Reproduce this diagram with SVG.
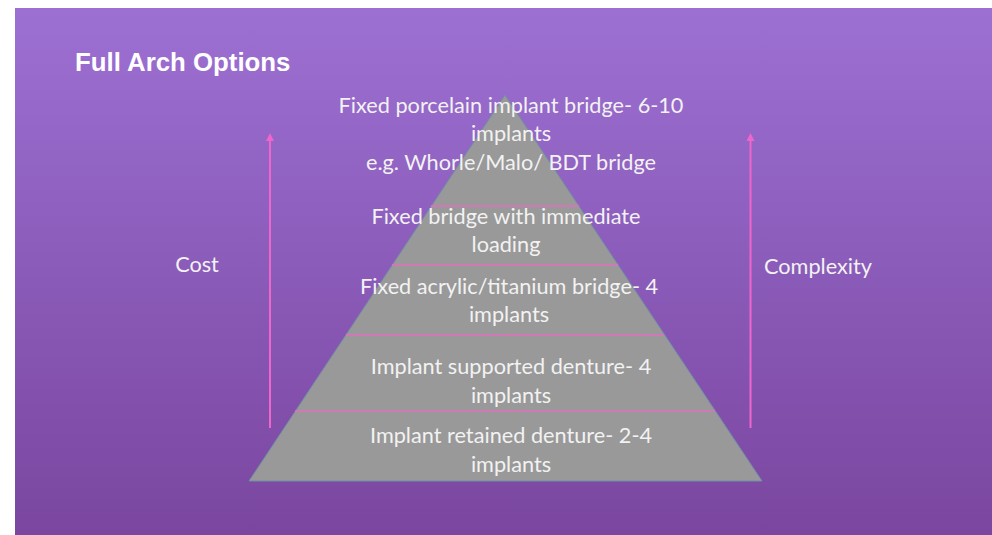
<svg xmlns="http://www.w3.org/2000/svg" width="992" height="535" viewBox="0 0 992 535">
  <style>
    .t { font-family: Lato, "Open Sans", sans-serif; font-size: 21.7px; fill: #f2f2f2; text-anchor: middle; }
    .title { font-family: "Liberation Sans", Arial, sans-serif; font-weight: bold; font-size: 25.8px; fill: #ffffff; }
    .div { stroke: #e271c0; stroke-width: 1.5; }
    .arr { stroke: #ee66cc; stroke-width: 2; fill: none; marker-end: url(#ah); }
  </style>
  <defs>
    <linearGradient id="bg" x1="0" y1="0" x2="0" y2="1">
      <stop offset="0" stop-color="#9c70d3"/>
      <stop offset="1" stop-color="#7a469f"/>
    </linearGradient>
    <marker id="ah" markerWidth="8" markerHeight="8" refX="4" refY="4" orient="auto" markerUnits="userSpaceOnUse">
      <path d="M0,0 L8,4 L0,8 Z" fill="#ee66cc"/>
    </marker>
  </defs>
  <rect x="0" y="0" width="992" height="535" fill="#ffffff"/>
  <rect x="15" y="8" width="977" height="527" fill="url(#bg)"/>
  <text class="title" x="75" y="71">Full Arch Options</text>

  <g id="pyramid">
    <polygon points="505,95 762,481 249,481" fill="#999999" stroke="#6f8ea6" stroke-width="1"/>
    <line class="div" x1="431" y1="206" x2="579" y2="206"/>
    <line class="div" x1="392" y1="265" x2="618" y2="265"/>
    <line class="div" x1="346" y1="335" x2="664" y2="335"/>
    <line class="div" x1="295" y1="411" x2="715" y2="411"/>
  </g>

  <g id="level5">
    <text class="t" x="511" y="113">Fixed porcelain implant bridge- 6-10</text>
    <text class="t" x="511" y="141">implants</text>
    <text class="t" x="511" y="170">e.g. Whorle/Malo/ BDT bridge</text>
  </g>
  <g id="level4">
    <text class="t" x="506" y="224">Fixed bridge with immediate</text>
    <text class="t" x="506" y="252">loading</text>
  </g>
  <g id="level3">
    <text class="t" x="509" y="294">Fixed acrylic/titanium bridge- 4</text>
    <text class="t" x="509" y="322">implants</text>
  </g>
  <g id="level2">
    <text class="t" x="511" y="374">Implant supported denture- 4</text>
    <text class="t" x="511" y="403">implants</text>
  </g>
  <g id="level1">
    <text class="t" x="511" y="443">Implant retained denture- 2-4</text>
    <text class="t" x="511" y="472">implants</text>
  </g>

  <g id="cost">
    <text class="t" x="197" y="272">Cost</text>
  </g>
  <g id="complexity">
    <text class="t" x="818" y="274">Complexity</text>
  </g>

  <g id="connectors">
    <line class="arr" x1="270" y1="428" x2="270" y2="137"/>
    <line class="arr" x1="750.5" y1="428" x2="750.5" y2="137"/>
  </g>
</svg>
